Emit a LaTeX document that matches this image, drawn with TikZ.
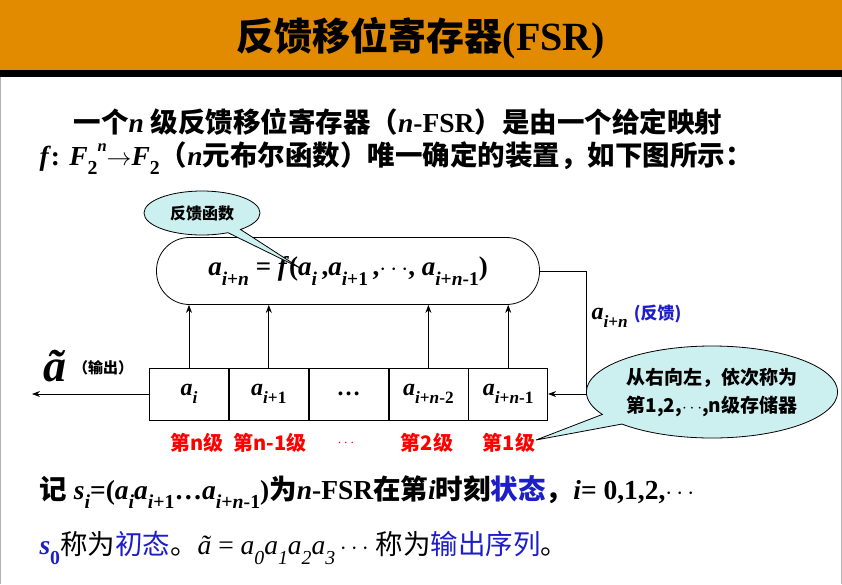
\documentclass[tikz,border=0pt]{standalone}
\usepackage{fontspec}
\setmainfont{Liberation Serif}
\newfontfamily\cjk{Noto Sans CJK SC}
\usetikzlibrary{shapes.callouts,arrows.meta}
\definecolor{titlebar}{RGB}{226,138,0}
\definecolor{bubble}{RGB}{204,240,240}
\definecolor{darkblue}{RGB}{30,30,200}
\newcommand{\lo}[1]{\raisebox{-0.35em}{\scalebox{0.72}{#1}}}
\newcommand{\hi}[1]{\raisebox{0.5em}{\scalebox{0.6}{#1}}}
\newcommand{\va}[1]{\textit{a}\lo{\textit{#1}}}
\tikzset{
  cell/.style={draw, thick, minimum width=79pt, minimum height=52pt, inner sep=0pt, font=\bfseries\fontsize{24}{26}\selectfont},
  bubbletext/.style={ellipse callout, draw, thick, fill=bubble, align=center},
  stagelabel/.style={text=red, font=\cjk\bfseries\fontsize{20}{22}\selectfont},
  link/.style={thick, -{Stealth[length=8pt,width=6pt]}},
  body/.style={anchor=west, font=\bfseries\fontsize{27.5}{30}\selectfont}
}
\begin{document}
\begin{tikzpicture}[x=1pt,y=-1pt]
  \useasboundingbox (0,0) rectangle (842,584);
  \fill[white] (0,0) rectangle (842,584);
  \draw[gray!60] (0.5,0) -- (0.5,584) (841.5,0) -- (841.5,584);
  % title bar
  \fill[titlebar] (0,0) rectangle (842,70);
  \fill[black] (0,70) rectangle (842,77);
  \node (title) at (421,38) {\cjk\bfseries\fontsize{38}{42}\selectfont 反馈移位寄存器\rmfamily\fontsize{40}{42}\selectfont(FSR)};

  % intro text
  \node[body] (introA) at (70,122) {{\cjk 一个}\textit{n} {\cjk 级反馈移位寄存器（}\textit{n}-FSR{\cjk ）是由一个给定映射}};
  \node[body] (introB) at (36,158) {\textit{f}: \textit{F}\lo{2}\hi{\textit{n}}$\rightarrow$\textit{F}\lo{2}{\cjk （}\textit{n}{\cjk 元布尔函数）唯一确定的装置，如下图所示：}};

  % registers
  \node[cell] (r1) at (189,394) {\va{i}};
  \node[cell, anchor=west] (r2) at (r1.east) {\va{i}\lo{+1}};
  \node[cell, anchor=west, font=\bfseries\fontsize{24}{26}\selectfont] (r3) at (r2.east) {…};
  \node[cell, anchor=west] (r4) at (r3.east) {\va{i}\lo{+\textit{n}-2}};
  \node[cell, anchor=west] (r5) at (r4.east) {\va{i}\lo{+\textit{n}-1}};

  % feedback function
  \node[draw, thick, rounded corners=33pt, minimum width=383pt, minimum height=67pt, font=\bfseries\fontsize{27}{28}\selectfont] (fbox) at (348,271) {\va{i}\lo{+\textit{n}} = \textit{f}(\va{i}\,,\va{i}\lo{+1}\,,$\cdots$, \va{i}\lo{+\textit{n}-1})};
  \foreach \r in {r1,r2,r4,r5}
    \draw[link] (\r.north) -- (\r.north |- fbox.south);

  % feedback path
  \coordinate (turn) at (586,271);
  \draw[link] (fbox.east) -- (turn) |- (r5.east);
  \node[anchor=west, font=\bfseries\fontsize{24}{26}\selectfont] (fblabel) at (588,316) {\va{i}\lo{+\textit{n}} \textcolor{darkblue}{\cjk\fontsize{17}{20}\selectfont (反馈)}};

  % output
  \coordinate (outend) at (32,394);
  \draw[link] (r1.west) -- (outend);
  \node[font=\bfseries\fontsize{46}{46}\selectfont] (tildea) at (55,366) {\textit{ã}};
  \node[font=\cjk\bfseries\fontsize{15}{16}\selectfont] (outlabel) at (103,368) {（输出）};

  % stage labels
  \node[stagelabel] (s1) at (197,443) {第n级};
  \node[stagelabel] (s2) at (270,443) {第n-1级};
  \node[stagelabel, font=\fontsize{14}{16}\selectfont] (s3) at (346,443) {$\cdots$};
  \node[stagelabel] (s4) at (427,443) {第2级};
  \node[stagelabel] (s5) at (509,443) {第1级};

  % callouts
  \node[bubbletext, font=\cjk\bfseries\fontsize{16}{20}\selectfont, minimum width=116pt, minimum height=44pt, callout absolute pointer={(300,268)}] (fbubble) at (202,213) {反馈函数};
  \node[bubbletext, font=\cjk\bfseries\fontsize{19}{28}\selectfont, minimum width=214pt, minimum height=92pt, callout absolute pointer={(536,440)}] (sbubble) at (712,392) {从右向左，依次称为\\第1,2,$\cdots$,\textit{n}级存储器};

  % bottom text
  \node[body] (stateline) at (36,492) {{\cjk 记} \textit{s}\lo{\textit{i}}=(\va{i}\va{i}\lo{+1}…\va{i}\lo{+\textit{n}-1}){\cjk 为}\textit{n}-FSR{\cjk 在第}\textit{i}{\cjk 时刻}\textcolor{darkblue}{\cjk 状态}{\cjk ，}\textit{i}= 0,1,2,$\cdots$};
  \node[body, font=\fontsize{27.5}{30}\selectfont] (seqline) at (36,548) {\textcolor{darkblue}{\bfseries\textit{s}\lo{0}}{\cjk 称为}\textcolor{darkblue}{\cjk 初态}{\cjk 。}\textit{ã} = \va{0}\va{1}\va{2}\va{3}\,$\cdots$ {\cjk 称为}\textcolor{darkblue}{\cjk 输出序列}{\cjk 。}};
\end{tikzpicture}
\end{document}
